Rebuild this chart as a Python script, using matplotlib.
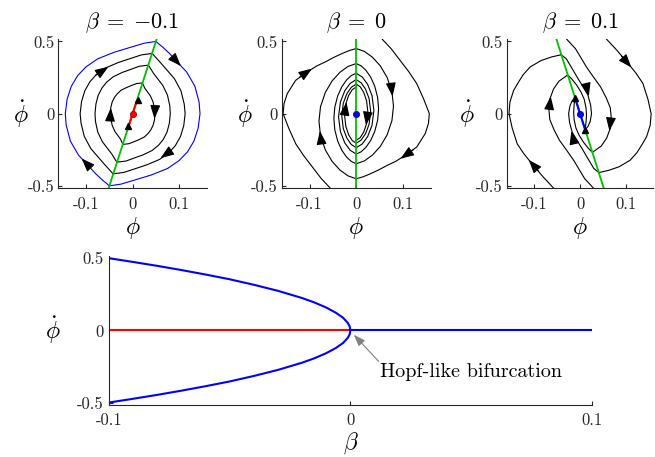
import numpy as np
import matplotlib
matplotlib.use("Agg")
import matplotlib.pyplot as plt

plt.rcParams["font.family"] = ["cmr10", "DejaVu Serif"]
plt.rcParams["mathtext.fontset"] = "cm"
plt.rcParams["axes.unicode_minus"] = False

# ---------------- data (phi, phi_dot) ----------------
titles = [r"$\beta\;=\;{-}0.1$", r"$\beta\;=\;0$", r"$\beta\;=\;0.1$"]
phase_ticks_x = [-0.1, 0, 0.1]
phase_ticks_y = [-0.5, 0, 0.5]
phase_ticklabels_x = ["-0.1", "0", "0.1"]
phase_ticklabels_y = ["-0.5", "0", "0.5"]

# beta = -0.1 : limit cycle (blue), switching line (green), unstable segment (red)
p1_switch = [(-0.0515, -0.515), (0.0515, 0.515)]
p1_segment = [(-0.009, -0.09), (0.009, 0.09)]
p1_cycle_right = [(0.050, 0.500), (0.065, 0.460), (0.080, 0.415), (0.098, 0.350), (0.116, 0.290),
                  (0.134, 0.190), (0.143, 0.080), (0.145, 0.000), (0.141, -0.100), (0.132, -0.190),
                  (0.118, -0.265), (0.100, -0.325), (0.075, -0.380), (0.040, -0.425), (0.002, -0.462),
                  (-0.025, -0.488), (-0.050, -0.500)]
p1_cycle_left = [(-0.050, -0.500), (-0.065, -0.460), (-0.080, -0.415), (-0.098, -0.350), (-0.116, -0.290),
                 (-0.134, -0.190), (-0.143, -0.080), (-0.145, 0.000), (-0.141, 0.100), (-0.132, 0.190),
                 (-0.118, 0.265), (-0.100, 0.325), (-0.075, 0.380), (-0.040, 0.425), (-0.002, 0.462),
                 (0.025, 0.488), (0.050, 0.500)]
p1_orbits = [
    [(0.042, 0.417), (0.062, 0.346), (0.090, 0.242), (0.104, 0.158), (0.111, 0.067), (0.113, 0.000),
     (0.110, -0.083), (0.103, -0.158), (0.092, -0.221), (0.078, -0.271), (0.058, -0.317), (0.031, -0.354),
     (0.002, -0.385), (-0.019, -0.407), (-0.042, -0.417)],
    [(-0.042, -0.417), (-0.062, -0.346), (-0.090, -0.242), (-0.104, -0.158), (-0.111, -0.067), (-0.113, 0.000),
     (-0.110, 0.083), (-0.103, 0.158), (-0.092, 0.221), (-0.078, 0.271), (-0.058, 0.317), (-0.031, 0.354),
     (-0.002, 0.385), (0.019, 0.407), (0.042, 0.417)],
    [(0.034, 0.336), (0.045, 0.279), (0.065, 0.195), (0.075, 0.128), (0.080, 0.054), (0.081, 0.000),
     (0.079, -0.067), (0.074, -0.128), (0.066, -0.178), (0.056, -0.218), (0.042, -0.255), (0.022, -0.286),
     (0.001, -0.310), (-0.014, -0.328), (-0.034, -0.336)],
    [(-0.034, -0.336), (-0.045, -0.279), (-0.065, -0.195), (-0.075, -0.128), (-0.080, -0.054), (-0.081, 0.000),
     (-0.079, 0.067), (-0.074, 0.128), (-0.066, 0.178), (-0.056, 0.218), (-0.042, 0.255), (-0.022, 0.286),
     (-0.001, 0.310), (0.014, 0.328), (0.034, 0.336)],
    [(0.021, 0.213), (0.026, 0.177), (0.038, 0.124), (0.044, 0.081), (0.047, 0.034), (0.048, 0.000),
     (0.047, -0.043), (0.044, -0.081), (0.039, -0.113), (0.033, -0.138), (0.025, -0.162), (0.013, -0.181),
     (0.001, -0.197), (-0.008, -0.208), (-0.021, -0.213)],
    [(-0.021, -0.213), (-0.026, -0.177), (-0.038, -0.124), (-0.044, -0.081), (-0.047, -0.034), (-0.048, 0.000),
     (-0.047, 0.043), (-0.044, 0.081), (-0.039, 0.113), (-0.033, 0.138), (-0.025, 0.162), (-0.013, 0.181),
     (-0.001, 0.197), (0.008, 0.208), (0.021, 0.213)],
]
p1_arrows = [((0.088, 0.385), (0.104, 0.330)), ((-0.092, -0.370), (-0.110, -0.310)),
             ((-0.080, 0.265), (-0.052, 0.325)), ((0.082, -0.258), (0.060, -0.308)),
             ((-0.048, -0.015), (-0.047, 0.040)), ((0.048, 0.020), (0.047, -0.035))]
p1_marks = [(0.0105, 0.092), (-0.0095, -0.083)]

# beta = 0 : switching line and nested arcs
p2_switch = [(0.0, -0.515), (0.0, 0.515)]
p2_orbits = [
    [(0.056, 0.515), (0.075, 0.450), (0.094, 0.370), (0.113, 0.290), (0.130, 0.208), (0.145, 0.100),
     (0.157, 0.000), (0.155, -0.070), (0.148, -0.139), (0.130, -0.231), (0.105, -0.289), (0.085, -0.330),
     (0.066, -0.359), (0.048, -0.390), (0.030, -0.417), (0.015, -0.437), (0.000, -0.451)],
    [(-0.056, -0.515), (-0.075, -0.450), (-0.094, -0.370), (-0.113, -0.290), (-0.130, -0.208), (-0.145, -0.100),
     (-0.157, 0.000), (-0.155, 0.070), (-0.148, 0.139), (-0.130, 0.231), (-0.105, 0.289), (-0.085, 0.330),
     (-0.066, 0.359), (-0.048, 0.390), (-0.030, 0.417), (-0.015, 0.437), (0.000, 0.451)],
    [(0.0, 0.451), (0.0176, 0.431), (0.0348, 0.391), (0.0517, 0.331), (0.0663, 0.2515), (0.0767, 0.152),
     (0.080, 0.052), (0.0767, -0.048), (0.0663, -0.1475), (0.0517, -0.227), (0.0348, -0.287),
     (0.0176, -0.327), (0.0, -0.347)],
    [(0.0, -0.451), (-0.0176, -0.431), (-0.0348, -0.391), (-0.0517, -0.331), (-0.0663, -0.2515),
     (-0.0767, -0.152), (-0.080, -0.052), (-0.0767, 0.048), (-0.0663, 0.1475), (-0.0517, 0.227),
     (-0.0348, 0.287), (-0.0176, 0.327), (0.0, 0.347)],
    [(0.0, 0.347), (0.0106, 0.331), (0.0209, 0.300), (0.031, 0.253), (0.0398, 0.190), (0.046, 0.112),
     (0.048, 0.0335), (0.046, -0.045), (0.0398, -0.123), (0.031, -0.186), (0.0209, -0.233),
     (0.0106, -0.264), (0.0, -0.280)],
    [(0.0, -0.347), (-0.0106, -0.331), (-0.0209, -0.300), (-0.031, -0.253), (-0.0398, -0.190),
     (-0.046, -0.112), (-0.048, -0.0335), (-0.046, 0.045), (-0.0398, 0.123), (-0.031, 0.186),
     (-0.0209, 0.233), (-0.0106, 0.264), (0.0, 0.280)],
    [(0.0, 0.280), (0.0129, 0.254), (0.0245, 0.203), (0.0339, 0.125), (0.038, 0.022), (0.0339, -0.081),
     (0.0245, -0.159), (0.0129, -0.210), (0.0, -0.236)],
    [(0.0, -0.280), (-0.0129, -0.254), (-0.0245, -0.203), (-0.0339, -0.125), (-0.038, -0.022),
     (-0.0339, 0.081), (-0.0245, 0.159), (-0.0129, 0.210), (0.0, 0.236)],
    [(0.0, 0.236), (0.0105, 0.214), (0.020, 0.170), (0.0277, 0.104), (0.031, 0.0155), (0.0277, -0.073),
     (0.020, -0.139), (0.0105, -0.183), (0.0, -0.205)],
    [(0.0, -0.236), (-0.0105, -0.214), (-0.020, -0.170), (-0.0277, -0.104), (-0.031, -0.0155),
     (-0.0277, 0.073), (-0.020, 0.139), (-0.0105, 0.183), (0.0, 0.205)],
    [(0.0, 0.205), (0.0085, 0.186), (0.0162, 0.147), (0.0223, 0.088), (0.025, 0.010), (0.0223, -0.068),
     (0.0162, -0.127), (0.0085, -0.166), (0.0, -0.185)],
    [(0.0, -0.205), (-0.0085, -0.186), (-0.0162, -0.147), (-0.0223, -0.088), (-0.025, -0.010),
     (-0.0223, 0.068), (-0.0162, 0.127), (-0.0085, 0.166), (0.0, 0.185)],
]
p2_arrows = [((-0.122, 0.252), (-0.095, 0.312)), ((0.122, -0.252), (0.095, -0.312)),
             ((0.075, 0.195), (0.078, 0.120)), ((-0.075, -0.195), (-0.078, -0.120)),
             ((0.024, -0.015), (0.021, -0.080)), ((-0.024, 0.015), (-0.021, 0.080))]

# beta = 0.1 : switching line, stable sliding segment (blue)
p3_switch = [(-0.0515, 0.515), (0.0515, -0.515)]
p3_segment = [(-0.011, 0.11), (0.011, -0.11)]
p3_orbits = [
    [(-0.058, -0.515), (-0.080, -0.440), (-0.105, -0.347), (-0.122, -0.280), (-0.137, -0.210), (-0.148, -0.100),
     (-0.155, 0.000), (-0.153, 0.080), (-0.145, 0.160), (-0.135, 0.215), (-0.124, 0.270), (-0.109, 0.323),
     (-0.085, 0.368), (-0.062, 0.393), (-0.041, 0.408)],
    [(-0.041, 0.408), (-0.030, 0.380), (-0.015, 0.300), (-0.004, 0.240), (0.007, 0.184), (0.017, 0.130),
     (0.023, 0.060), (0.025, 0.000), (0.022, -0.055), (0.017, -0.090), (0.011, -0.110)],
    [(0.058, 0.515), (0.080, 0.440), (0.105, 0.347), (0.122, 0.280), (0.137, 0.210), (0.148, 0.100),
     (0.155, 0.000), (0.153, -0.080), (0.145, -0.160), (0.135, -0.215), (0.124, -0.270), (0.109, -0.323),
     (0.085, -0.368), (0.062, -0.393), (0.041, -0.408)],
    [(0.041, -0.408), (0.030, -0.380), (0.015, -0.300), (0.004, -0.240), (-0.007, -0.184), (-0.017, -0.130),
     (-0.023, -0.060), (-0.025, 0.000), (-0.022, 0.055), (-0.017, 0.090), (-0.011, 0.110)],
    [(-0.029, 0.515), (-0.010, 0.450), (0.014, 0.323), (0.030, 0.250), (0.045, 0.184), (0.057, 0.110),
     (0.066, 0.040), (0.068, -0.030), (0.066, -0.100), (0.058, -0.170), (0.046, -0.225), (0.027, -0.268)],
    [(0.027, -0.268), (0.018, -0.240), (0.008, -0.200), (-0.002, -0.150), (-0.009, -0.100), (-0.013, -0.040),
     (-0.014, 0.010), (-0.013, 0.060), (-0.011, 0.110)],
    [(0.029, -0.515), (0.010, -0.450), (-0.014, -0.323), (-0.030, -0.250), (-0.045, -0.184), (-0.057, -0.110),
     (-0.066, -0.040), (-0.068, 0.030), (-0.066, 0.100), (-0.058, 0.170), (-0.046, 0.225), (-0.027, 0.268)],
    [(-0.027, 0.268), (-0.018, 0.240), (-0.008, 0.200), (0.002, 0.150), (0.009, 0.100), (0.013, 0.040),
     (0.014, -0.010), (0.013, -0.060), (0.011, -0.110)],
]
p3_arrows = [((-0.090, -0.400), (-0.112, -0.320)), ((0.090, 0.400), (0.112, 0.320)),
             ((-0.067, 0.040), (-0.064, 0.120)), ((0.067, -0.040), (0.064, -0.120)),
             ((0.013, 0.200), (0.019, 0.120)), ((-0.013, -0.200), (-0.019, -0.120))]
p3_marks = [(-0.0115, 0.108), (0.0115, -0.112)]

# bifurcation diagram
beta_branch = [-0.1, -0.09, -0.08, -0.07, -0.06, -0.05, -0.04, -0.03, -0.02, -0.015, -0.01, -0.006,
               -0.003, -0.001, -0.0003, 0.0, -0.0003, -0.001, -0.003, -0.006, -0.01, -0.015, -0.02,
               -0.03, -0.04, -0.05, -0.06, -0.07, -0.08, -0.09, -0.1]
amp_branch = [0.5, 0.474, 0.447, 0.418, 0.387, 0.354, 0.316, 0.274, 0.224, 0.194, 0.158, 0.122,
              0.087, 0.05, 0.027, 0.0, -0.027, -0.05, -0.087, -0.122, -0.158, -0.194, -0.224,
              -0.274, -0.316, -0.354, -0.387, -0.418, -0.447, -0.474, -0.5]
beta_unstable = [-0.1, 0.0]
beta_stable = [0.0, 0.1]
hopf_point = (0.0014, -0.03)
hopf_label = "Hopf-like bifurcation"

# ---------------- drawing ----------------
GREEN = "#00c000"
AXC = "#262626"


def style(ax, xpad, ypad):
    for s in ["top", "right"]:
        ax.spines[s].set_visible(False)
    for s in ["left", "bottom"]:
        ax.spines[s].set_color(AXC)
        ax.spines[s].set_linewidth(0.8)
    ax.tick_params(direction="in", length=3, width=0.8, colors=AXC, labelsize=12)
    ax.tick_params(axis="x", pad=xpad)
    ax.tick_params(axis="y", pad=ypad)


def curve(ax, pts, **kw):
    a = np.array(pts)
    ax.plot(a[:, 0], a[:, 1], **kw)


def arrow(ax, tail, head):
    ax.annotate("", xy=head, xytext=tail,
                arrowprops=dict(arrowstyle="-|>,head_length=0.75,head_width=0.28",
                                color="k", lw=0.8, shrinkA=0, shrinkB=0, mutation_scale=11))


fig = plt.figure(figsize=(6.55, 4.57), dpi=100)
ax1 = fig.add_axes([0.0890, 0.5886, 0.2270, 0.3254])
ax2 = fig.add_axes([0.4301, 0.5886, 0.2275, 0.3254])
ax3 = fig.add_axes([0.7736, 0.5886, 0.2240, 0.3254])
axb = fig.add_axes([0.1660, 0.1144, 0.7379, 0.3254])

# panel 1
for orb in p1_orbits:
    curve(ax1, orb, color="k", lw=0.8)
curve(ax1, p1_cycle_right, color="#0000ff", lw=0.8)
curve(ax1, p1_cycle_left, color="#0000ff", lw=0.8)
curve(ax1, p1_switch, color=GREEN, lw=1.3)
curve(ax1, p1_segment, color="#ff0000", lw=1.5)
for t, h in p1_arrows:
    arrow(ax1, t, h)
m = np.array(p1_marks)
ax1.plot(m[:, 0], m[:, 1], "^", color="k", ms=5)
ax1.plot([0], [0], "o", color="#ff0000", mec="#800000", mew=0.5, ms=4.5)

# panel 2
for orb in p2_orbits:
    curve(ax2, orb, color="k", lw=0.8)
curve(ax2, p2_switch, color=GREEN, lw=1.3)
for t, h in p2_arrows:
    arrow(ax2, t, h)
ax2.plot([0], [0], "o", color="#0000ff", mec="#000080", mew=0.5, ms=4.5)

# panel 3
for orb in p3_orbits:
    curve(ax3, orb, color="k", lw=0.8)
curve(ax3, p3_switch, color=GREEN, lw=1.3)
curve(ax3, p3_segment, color="#0000ff", lw=1.5)
for t, h in p3_arrows:
    arrow(ax3, t, h)
m = np.array(p3_marks)
ax3.plot(m[:, 0], m[:, 1], "^", color="k", ms=5)
ax3.plot([0], [0], "o", color="#0000ff", mec="#000080", mew=0.5, ms=4.5)

for ax, title, lx in zip([ax1, ax2, ax3], titles, [-0.25, -0.25, -0.27]):
    style(ax, 6, 3)
    ax.set_xlim(-0.16, 0.16)
    ax.set_ylim(-0.515, 0.515)
    ax.set_xticks(phase_ticks_x)
    ax.set_xticklabels(phase_ticklabels_x)
    ax.set_yticks(phase_ticks_y)
    ax.set_yticklabels(phase_ticklabels_y)
    ax.set_title(title, fontsize=16, pad=8)
    ax.set_xlabel(r"$\phi$", fontsize=17)
    ax.set_ylabel(r"$\dot{\phi}$", fontsize=17, rotation=0, va="center")
    ax.xaxis.set_label_coords(0.5, -0.18)
    ax.yaxis.set_label_coords(lx, 0.5)

# bifurcation diagram
axb.plot(beta_unstable, [0, 0], color="#ff0000", lw=1.5)
axb.plot(beta_stable, [0, 0], color="#0000ff", lw=1.5)
axb.plot(beta_branch, amp_branch, color="#0000ff", lw=1.5)
axb.annotate("", xy=hopf_point, xytext=(0.0117, -0.215),
             arrowprops=dict(arrowstyle="-|>,head_length=0.7,head_width=0.25", color="#808080",
                             lw=0.8, shrinkA=0, shrinkB=0, mutation_scale=10))
axb.text(0.0121, -0.287, hopf_label, fontsize=14.5, va="center", ha="left")
style(axb, 6, 4)
axb.set_xlim(-0.1, 0.1)
axb.set_ylim(-0.515, 0.515)
axb.set_xticks([-0.1, 0, 0.1])
axb.set_xticklabels(["-0.1", "0", "0.1"])
axb.set_yticks([-0.5, 0, 0.5])
axb.set_yticklabels(["-0.5", "0", "0.5"])
axb.set_xlabel(r"$\beta$", fontsize=17)
axb.set_ylabel(r"$\dot{\phi}$", fontsize=17, rotation=0, va="center")
axb.xaxis.set_label_coords(0.5, -0.175)
axb.yaxis.set_label_coords(-0.115, 0.5)

fig.savefig("out.png", dpi=100)
